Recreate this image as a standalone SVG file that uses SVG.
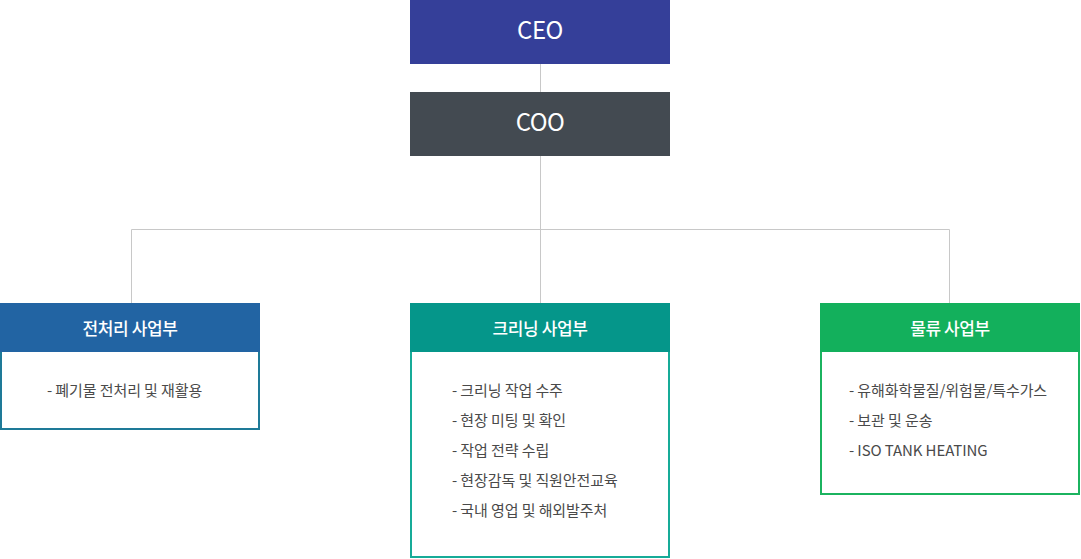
<svg xmlns="http://www.w3.org/2000/svg" width="1081" height="559" viewBox="0 0 1081 559">
<style>
.top{font-family:"Noto Sans CJK KR","Noto Sans",sans-serif;font-size:24px;fill:#fff;text-anchor:middle;letter-spacing:-0.5px}
.hd{font-family:"Noto Sans CJK KR","Noto Sans",sans-serif;font-size:17px;font-weight:500;fill:#fff;text-anchor:middle;letter-spacing:-0.4px}
.it{font-family:"Noto Sans CJK KR","Noto Sans",sans-serif;font-size:15px;fill:#4a4a4a;letter-spacing:-0.1px}
.ln{stroke:#c8c8c8;stroke-width:1;fill:none}
</style>
<rect width="1081" height="559" fill="#fff"/>
<g id="connectors">
<path class="ln" d="M540.5 64V92M540.5 156V303M131.5 303V229.5H949.5V303"/>
</g>
<g id="ceo">
<rect x="410" y="0" width="260" height="64" fill="#353f99"/>
<text class="top" x="540" y="39">CEO</text>
</g>
<g id="coo">
<rect x="410" y="92" width="260" height="64" fill="#434a51"/>
<text class="top" x="540" y="131">COO</text>
</g>
<g id="dept1">
<rect x="1" y="304" width="258" height="125" fill="#fff" stroke="#1e7a98" stroke-width="2"/>
<rect x="0" y="303" width="260" height="49" fill="#2264a3"/>
<text class="hd" x="130" y="335">전처리 사업부</text>
<text class="it" x="47" y="396">- 폐기물 전처리 및 재활용</text>
</g>
<g id="dept2">
<rect x="411" y="304" width="258" height="253" fill="#fff" stroke="#16ab98" stroke-width="2"/>
<rect x="410" y="303" width="260" height="49" fill="#05968a"/>
<text class="hd" x="540" y="335">크리닝 사업부</text>
<text class="it" x="452" y="396">- 크리닝 작업 수주</text>
<text class="it" x="452" y="426">- 현장 미팅 및 확인</text>
<text class="it" x="452" y="456">- 작업 전략 수립</text>
<text class="it" x="452" y="486">- 현장감독 및 직원안전교육</text>
<text class="it" x="452" y="516">- 국내 영업 및 해외발주처</text>
</g>
<g id="dept3">
<rect x="821" y="304" width="258" height="190" fill="#fff" stroke="#1bb35f" stroke-width="2"/>
<rect x="820" y="303" width="260" height="49" fill="#13b05c"/>
<text class="hd" x="950" y="335">물류 사업부</text>
<text class="it" x="849" y="396">- 유해화학물질/위험물/특수가스</text>
<text class="it" x="849" y="426">- 보관 및 운송</text>
<text class="it" x="849" y="456">- ISO TANK HEATING</text>
</g>
</svg>
